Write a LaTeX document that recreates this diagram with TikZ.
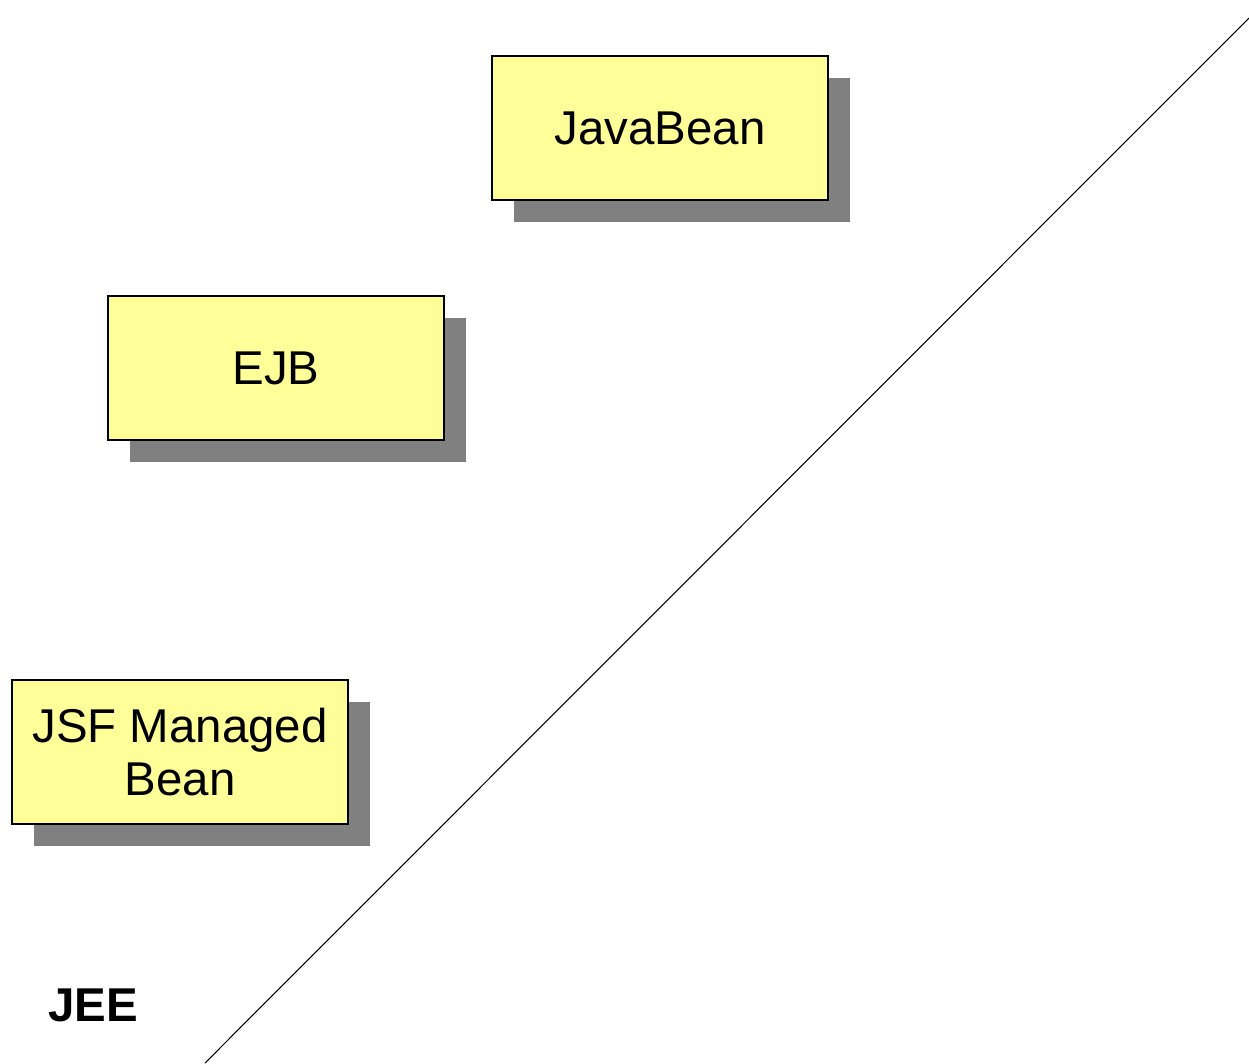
\documentclass[tikz,border=0pt]{standalone}
\usepackage{fontspec}
\setmainfont{Liberation Sans}
\usetikzlibrary{shadows}
\definecolor{beanyellow}{HTML}{FFFF99}
\tikzset{bean/.style={draw=black,line width=0.6pt,fill=beanyellow,minimum width=6.72cm,minimum height=2.88cm,align=center,font=\fontsize{27}{30}\selectfont,general shadow={fill=black!50,shadow xshift=0.44cm,shadow yshift=-0.44cm}}}

\begin{document}
\begin{tikzpicture}
								\useasboundingbox (0,0) rectangle (24.98,21.26);
								\coordinate (lo) at (4.1,0);
								\coordinate (hi) at (24.98,20.9);
								\draw[line width=0.6pt](lo)--(hi);
								\node[bean] (jb) at (13.2,18.7) {JavaBean};
								\node[bean] (ejb) at (5.52,13.9) {EJB};
								\node[bean] (jsf) at (3.6,6.22) {JSF Managed\\Bean};
								\node[font=\fontsize{27}{30}\selectfont\bfseries] (jee) at (1.86,1.16) {JEE};
							\end{tikzpicture}
\end{document}
